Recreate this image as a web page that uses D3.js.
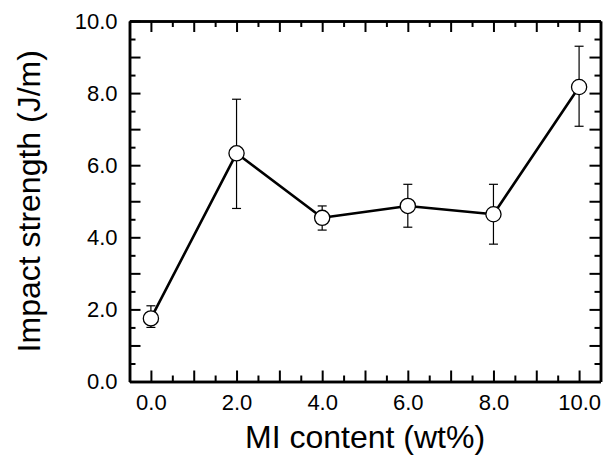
<!DOCTYPE html>
<html>
<head>
<meta charset="utf-8">
<script src="https://cdn.jsdelivr.net/npm/d3@7"></script>
<style>
  html, body { margin: 0; padding: 0; background: #fff; }
  svg { display: block; }
  text { font-family: "Liberation Sans", Arial, Helvetica, sans-serif; }
</style>
</head>
<body>
<svg id="chart" width="607" height="455"></svg>
<script>
// ---- data ----
const miContent = [0, 2, 4, 6, 8, 10];
const impactStrength = [1.75, 6.33, 4.54, 4.87, 4.64, 8.17];
const errHigh = [2.10, 7.83, 4.87, 5.47, 5.47, 9.30];
const errLow = [1.50, 4.80, 4.20, 4.28, 3.81, 7.08];
const xTickLabels = ["0.0", "2.0", "4.0", "6.0", "8.0", "10.0"];
const yTickValues = [0, 2, 4, 6, 8, 10];
const yTickLabels = ["0.0", "2.0", "4.0", "6.0", "8.0", "10.0"];
const xTitle = "MI content (wt%)";
const yTitle = "Impact strength (J/m)";

// ---- layout ----
const svg = d3.select("#chart");
const L = 129.5, R = 600.5, T = 21, B = 381.5;
const x = d3.scaleLinear().domain([-0.5, 10.5]).range([L, R]);
const y = d3.scaleLinear().domain([0, 10]).range([B, T]);

const longT = 11, shortT = 6;
const intTicks = d3.range(0, 11, 1);
const halfTicks = d3.range(0.5, 10, 1);
const xLab = d => { const i = miContent.indexOf(d); return i >= 0 ? xTickLabels[i] : ""; };
const yLab = d => { const i = yTickValues.indexOf(d); return i >= 0 ? yTickLabels[i] : ""; };

function styleAxis(g) {
  g.attr("font-family", "Liberation Sans, Arial, sans-serif").attr("font-size", 22).attr("color", "#000");
  g.select(".domain").attr("stroke-width", 2.5);
  g.selectAll(".tick line").attr("stroke-width", 2);
}

// bottom axis (labels + long inward ticks, domain = bottom frame)
svg.append("g").attr("transform", `translate(0,${B})`)
  .call(d3.axisBottom(x).tickValues(intTicks).tickFormat(xLab).tickSizeInner(-longT).tickSizeOuter(0).tickPadding(13))
  .call(styleAxis);
svg.append("g").attr("transform", `translate(0,${B})`)
  .call(d3.axisBottom(x).tickValues(halfTicks).tickFormat(() => "").tickSizeInner(-shortT).tickSizeOuter(0))
  .call(styleAxis);
// top axis
svg.append("g").attr("transform", `translate(0,${T})`)
  .call(d3.axisTop(x).tickValues(intTicks).tickFormat(() => "").tickSizeInner(-longT).tickSizeOuter(0))
  .call(styleAxis);
svg.append("g").attr("transform", `translate(0,${T})`)
  .call(d3.axisTop(x).tickValues(halfTicks).tickFormat(() => "").tickSizeInner(-shortT).tickSizeOuter(0))
  .call(styleAxis);
// left axis (labels)
svg.append("g").attr("transform", `translate(${L},0)`)
  .call(d3.axisLeft(y).tickValues(intTicks).tickFormat(yLab).tickSizeInner(-longT).tickSizeOuter(0).tickPadding(12))
  .call(styleAxis);
svg.append("g").attr("transform", `translate(${L},0)`)
  .call(d3.axisLeft(y).tickValues(halfTicks).tickFormat(() => "").tickSizeInner(-shortT).tickSizeOuter(0))
  .call(styleAxis);
// right axis
svg.append("g").attr("transform", `translate(${R},0)`)
  .call(d3.axisRight(y).tickValues(intTicks).tickFormat(() => "").tickSizeInner(-longT).tickSizeOuter(0))
  .call(styleAxis);
svg.append("g").attr("transform", `translate(${R},0)`)
  .call(d3.axisRight(y).tickValues(halfTicks).tickFormat(() => "").tickSizeInner(-shortT).tickSizeOuter(0))
  .call(styleAxis);

// axis titles
svg.append("text")
  .attr("x", (L + R) / 2).attr("y", 447.5)
  .attr("text-anchor", "middle")
  .attr("font-size", 32)
  .attr("fill", "#000")
  .text(xTitle);
svg.append("text")
  .attr("transform", `translate(40,${(T + B) / 2}) rotate(-90)`)
  .attr("text-anchor", "middle")
  .attr("font-size", 32)
  .attr("fill", "#000")
  .text(yTitle);

// data
const pts = miContent.map((v, i) => ({ x: v, y: impactStrength[i], hi: errHigh[i], lo: errLow[i] }));

// error bars
const eg = svg.append("g").attr("stroke", "#000").attr("stroke-width", 1.2).attr("fill", "none");
const capW = 4.5;
eg.selectAll("line.v").data(pts).join("line").attr("class", "v")
  .attr("x1", d => x(d.x)).attr("x2", d => x(d.x))
  .attr("y1", d => y(d.hi)).attr("y2", d => y(d.lo));
eg.selectAll("line.h").data(pts).join("line").attr("class", "h")
  .attr("x1", d => x(d.x) - capW).attr("x2", d => x(d.x) + capW)
  .attr("y1", d => y(d.hi)).attr("y2", d => y(d.hi));
eg.selectAll("line.lo").data(pts).join("line").attr("class", "lo")
  .attr("x1", d => x(d.x) - capW).attr("x2", d => x(d.x) + capW)
  .attr("y1", d => y(d.lo)).attr("y2", d => y(d.lo));

// connecting line
const line = d3.line().x(d => x(d.x)).y(d => y(d.y));
svg.append("path").datum(pts)
  .attr("d", line)
  .attr("fill", "none").attr("stroke", "#000").attr("stroke-width", 2.6)
  .attr("stroke-linejoin", "round");

// markers
svg.append("g").selectAll("circle").data(pts).join("circle")
  .attr("cx", d => x(d.x)).attr("cy", d => y(d.y)).attr("r", 7.6)
  .attr("fill", "#fff").attr("stroke", "#000").attr("stroke-width", 1.3);
</script>
</body>
</html>
